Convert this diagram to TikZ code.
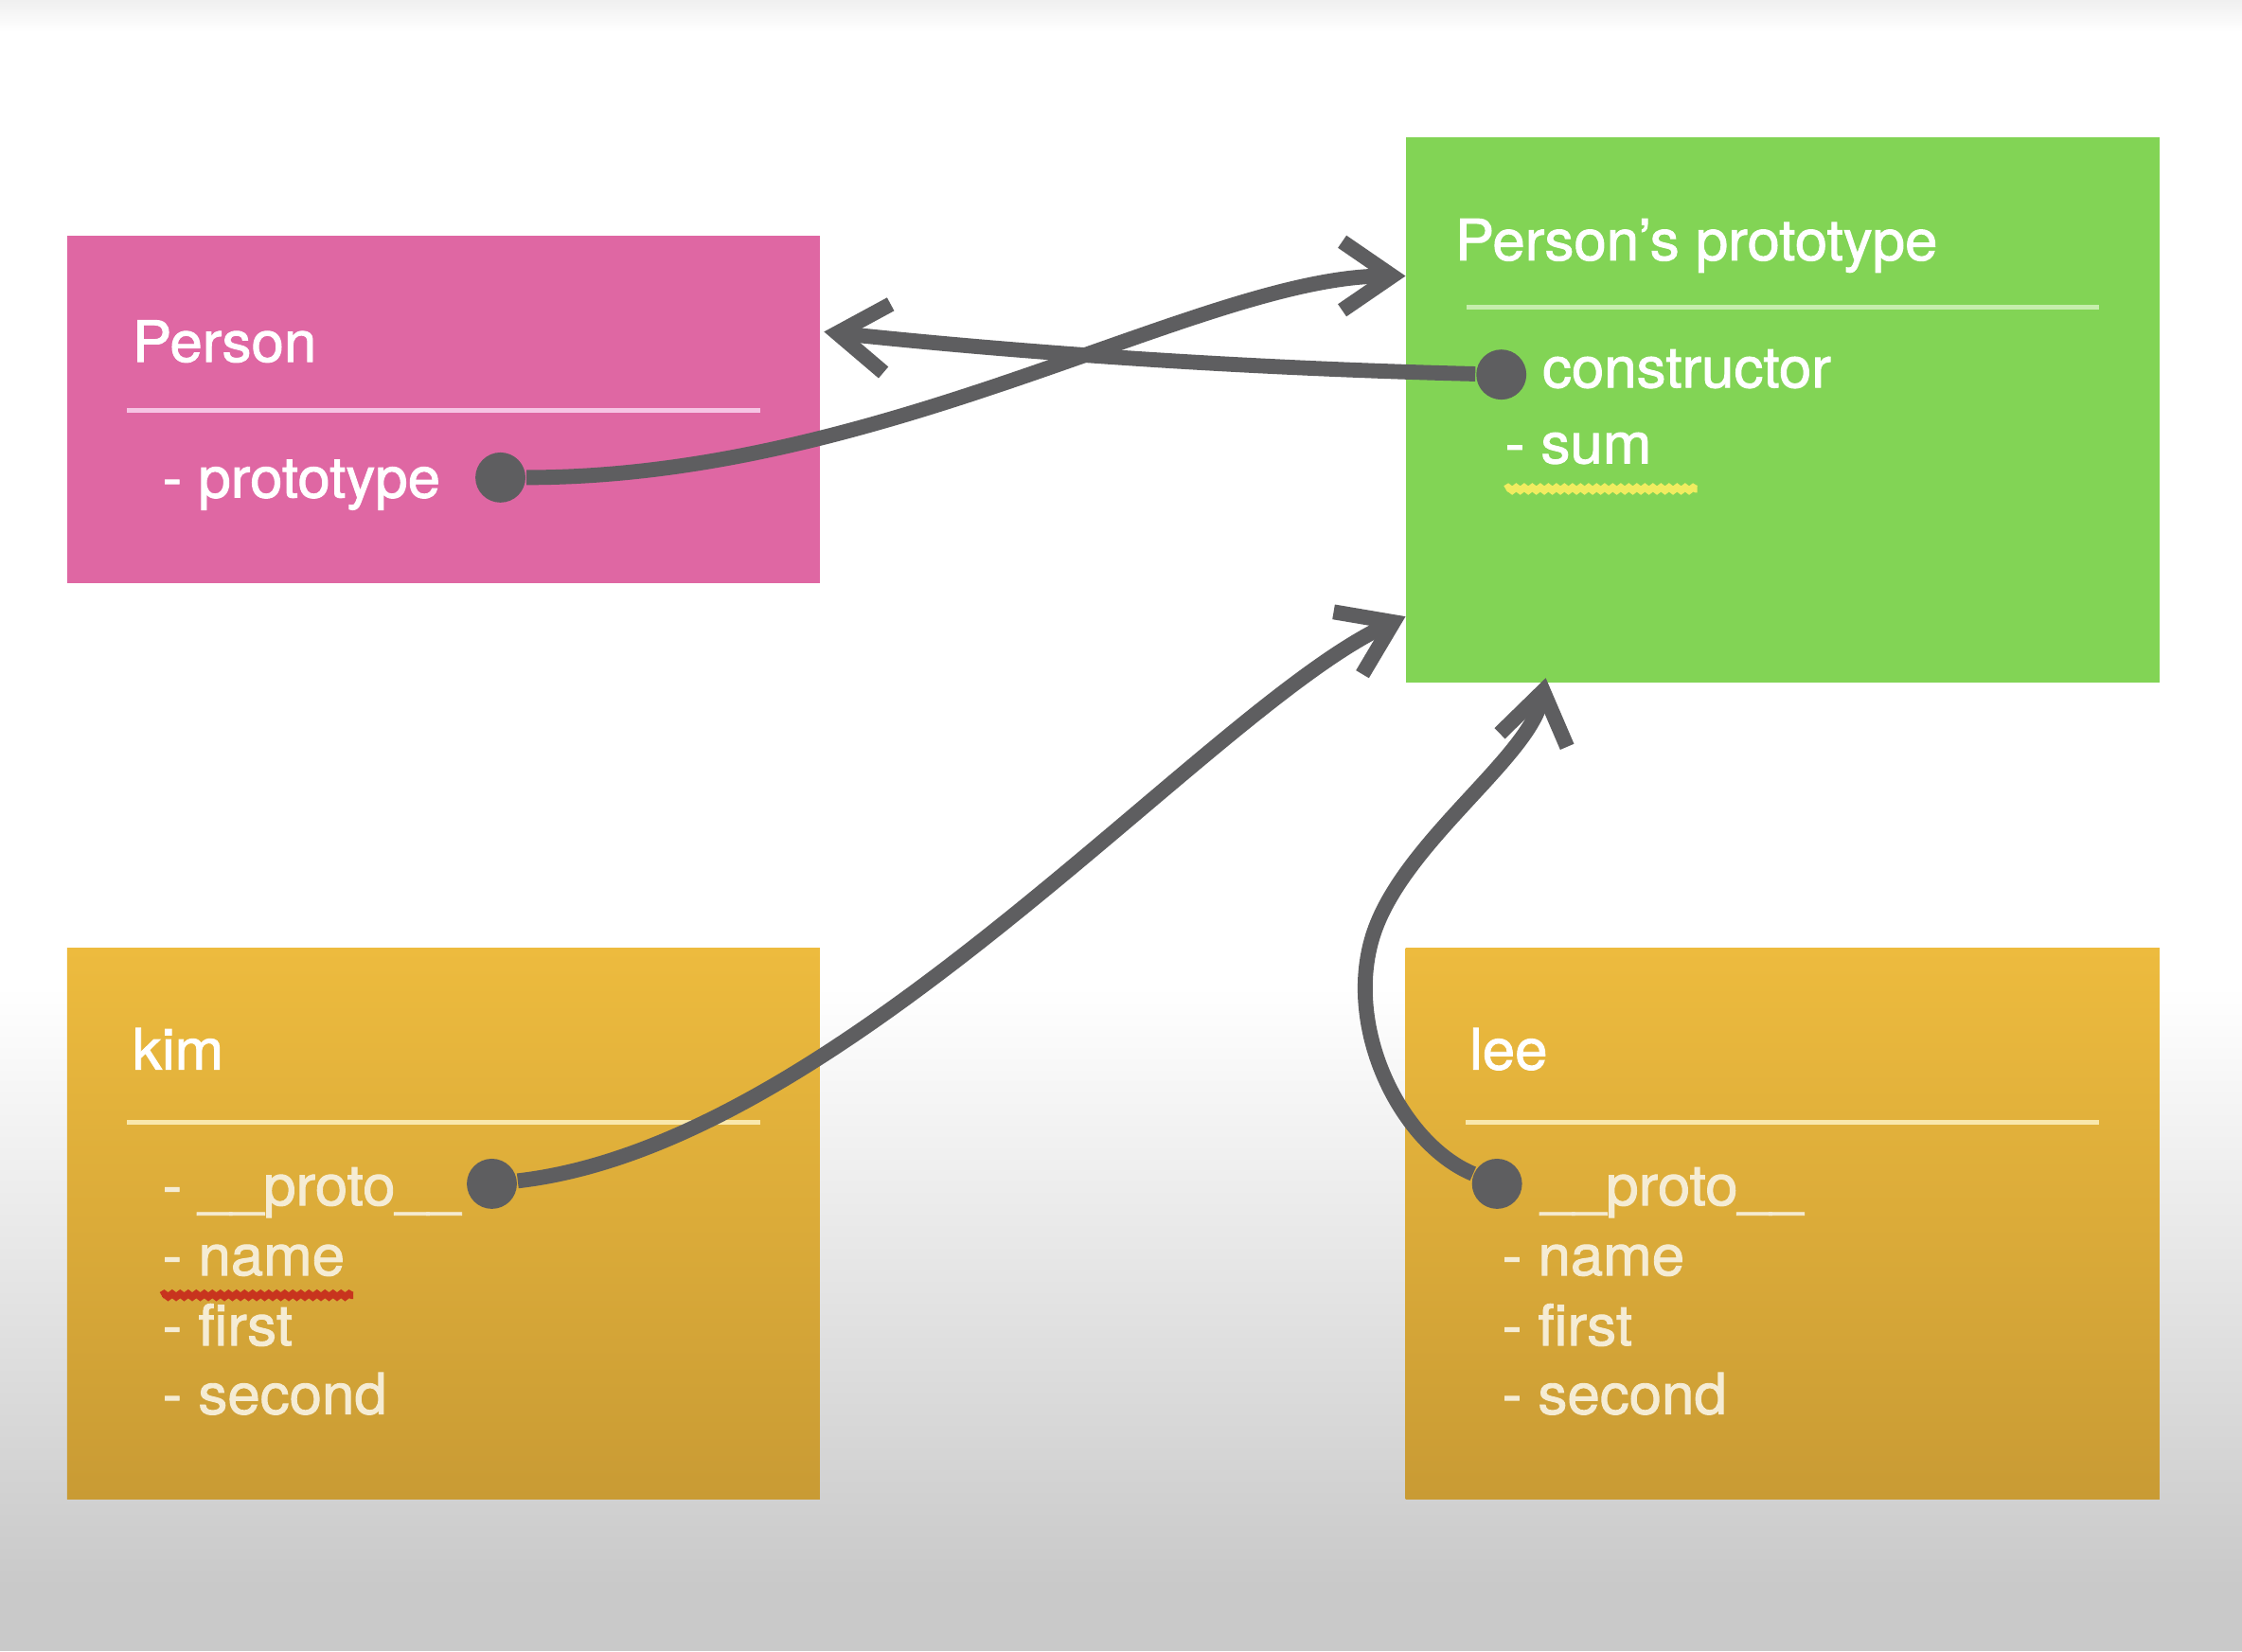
\documentclass[tikz,border=0pt]{standalone}
\usepackage{fontspec}
\setmainfont[FakeStretch=1.03, FakeBold=1.5]{TeX Gyre Heros}
\usetikzlibrary{arrows.meta,decorations.pathmorphing}
\definecolor{pinkbox}{RGB}{223,103,163}
\definecolor{pinkrule}{RGB}{246,196,228}
\definecolor{greenbox}{RGB}{130,212,85}
\definecolor{greenrule}{RGB}{198,238,172}
\definecolor{orangetop}{RGB}{237,187,62}
\definecolor{orangebot}{RGB}{201,155,52}
\definecolor{orangerule}{RGB}{249,232,172}
\definecolor{cream}{RGB}{245,236,212}
\definecolor{wire}{RGB}{94,94,96}
\definecolor{bggray}{RGB}{201,201,201}
\definecolor{yellowmark}{RGB}{240,236,96}
\definecolor{redmark}{RGB}{200,52,30}
\begin{document}
\begin{tikzpicture}[x=0.01cm, y=-0.01cm,
    box/.style={anchor=north west, inner sep=0pt, outer sep=0pt},
    txt/.style={anchor=base west, inner sep=0pt, text=white, font=\fontsize{11.3}{13}\selectfont},
    rule/.style={line width=0.03cm},
    dot/.style={circle, fill=wire, inner sep=0pt, minimum size=0.35cm},
    link/.style={draw=wire, line width=0.105cm, -{Straight Barb[length=3.5mm, width=4.8mm]}},
    squiggle/.style={line width=0.05cm, decorate, decoration={snake, amplitude=0.3pt, segment length=1.6pt}}]
  \fill[white] (0,0) rectangle (1568,1155);
  \shade[top color=black!6, bottom color=white] (0,0) rectangle (1568,22);
  \shade[top color=white, bottom color=bggray] (0,690) rectangle (1568,1110);
  \fill[bggray] (0,1110) rectangle (1568,1155);
  \useasboundingbox (0,0) rectangle (1568,1155);

  \node[box, fill=pinkbox, minimum width=5.26cm, minimum height=2.43cm] (person) at (47,165) {};
  \node[box, fill=greenbox, minimum width=5.27cm, minimum height=3.81cm] (proto) at (983,96) {};
  \node[box, top color=orangetop, bottom color=orangebot, minimum width=5.26cm, minimum height=3.85cm] (kim) at (47,663) {};
  \node[box, top color=orangetop, bottom color=orangebot, minimum width=5.27cm, minimum height=3.85cm] (lee) at (983,663) {};

  \node[txt] (persontitle) at (92,253) {Person};
  \draw[rule, pinkrule] (89,287) -- (532,287);
  \node[txt] (personproto) at (113,348) {- prototype};
  \node[dot] (protodot) at (350,334) {};

  \node[txt] (prototitle) at (1017,182) {Person’s prototype};
  \draw[rule, greenrule] (1026,215) -- (1468,215);
  \node[txt] (ctor) at (1078,271) {constructor};
  \node[dot] (ctordot) at (1050,262) {};
  \node[txt] (sum) at (1052,324) {- sum};
  \draw[squiggle, yellowmark] (1053,342) -- (1187,342);

  \node[txt] (kimtitle) at (92,748) {kim};
  \draw[rule, orangerule] (89,785) -- (532,785);
  \node[txt, text=cream] (kimproto) at (113,843) {- \_\_proto\_\_};
  \node[txt, text=cream] (kimname) at (113,892) {- name};
  \node[txt, text=cream] (kimfirst) at (113,941) {- first};
  \node[txt, text=cream] (kimsecond) at (113,989) {- second};
  \draw[squiggle, redmark] (113,906) -- (247,906);
  \node[dot] (kimdot) at (344,828) {};

  \node[txt] (leetitle) at (1027,748) {lee};
  \draw[rule, orangerule] (1025,785) -- (1468,785);
  \node[txt, text=cream] (leeproto) at (1077,843) {\_\_proto\_\_};
  \node[txt, text=cream] (leename) at (1050,892) {- name};
  \node[txt, text=cream] (leefirst) at (1050,941) {- first};
  \node[txt, text=cream] (leesecond) at (1050,989) {- second};
  \node[dot] (leedot) at (1047,828) {};

  \draw[link] (protodot) .. controls (620,334) and (842,193) .. ([yshift=-0.97cm]proto.north west);
  \draw[link] (ctordot) .. controls (850,257) and (700,245) .. ([xshift=0.03cm, yshift=-0.67cm]person.north east);
  \draw[link] (kimdot) .. controls (590,800) and (845,495) .. ([yshift=-3.35cm]proto.north west);
  \draw[link] (leedot) .. controls (980,800) and (940,720) .. (960,655) .. controls (980,590) and (1070,530) .. ([xshift=0.98cm, yshift=0.03cm]proto.south west);
\end{tikzpicture}
\end{document}
